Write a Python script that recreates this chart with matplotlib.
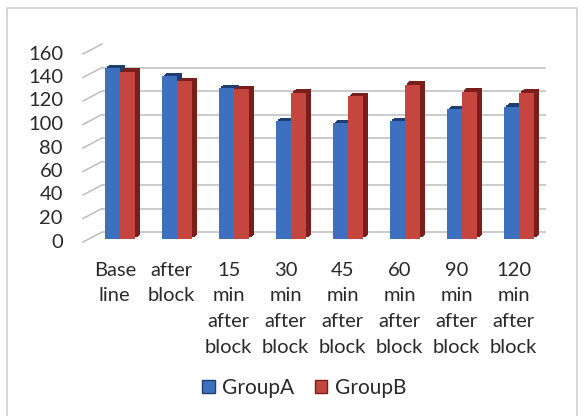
import numpy as np
import matplotlib
matplotlib.use("Agg")
import matplotlib.pyplot as plt
from matplotlib.transforms import offset_copy, IdentityTransform
from matplotlib.lines import Line2D
from matplotlib.patches import Patch, Rectangle

categories = ["Base\nline", "after\nblock", "15\nmin\nafter\nblock", "30\nmin\nafter\nblock",
              "45\nmin\nafter\nblock", "60\nmin\nafter\nblock", "90\nmin\nafter\nblock",
              "120\nmin\nafter\nblock"]
group_a = [145, 138, 128, 100, 98, 100, 110, 112]
group_b = [142, 134, 127, 124, 121, 131, 125, 124]
yticks = [0, 20, 40, 60, 80, 100, 120, 140, 160]
series_names = ["GroupA", "GroupB"]

plt.rcParams['font.family'] = ['Lato', 'DejaVu Sans']

W, H = 584, 416
fig = plt.figure(figsize=(W / 100, H / 100), dpi=100)
fig.patch.set_facecolor('white')

# outer chart border
fig.add_artist(Rectangle((7 / W, -0.05), (577 - 7) / W, (416 - 8) / H + 0.05,
                         transform=fig.transFigure, fill=False,
                         edgecolor='#d0d0d0', linewidth=1.2))

ax_left, ax_right, ax_bot, ax_top = 89.6, 545.6, 238.5, 50.5
ax = fig.add_axes([ax_left / W, (H - ax_bot) / H, (ax_right - ax_left) / W, (ax_bot - ax_top) / H])
ax.set_xlim(-0.53, 7.47)
ax.set_ylim(0, 160)
ax.axis('off')

back_dx, back_dy = 12.4, 6.5
front_dx, front_dy = -6.6, -3.5
grid_col = '#bdbdbd'
txt_col = '#2a2a2a'

back_tr = offset_copy(ax.transData, fig=fig, x=back_dx, y=back_dy, units='dots')
x0, x1 = ax.get_xlim()
for v in yticks:
    ax.plot([x0, x1], [v, v], color=grid_col, lw=1.1, transform=back_tr, zorder=1,
            solid_capstyle='butt')
    p = ax.transData.transform((x0, v))
    fig.add_artist(Line2D([p[0] + front_dx, p[0] + back_dx], [p[1] + front_dy, p[1] + back_dy],
                          transform=IdentityTransform(), color=grid_col, lw=1.1))
    ax.text(0, v, str(v), transform=offset_copy(ax.get_yaxis_transform(), fig=fig,
                                                 x=-26.6, y=front_dy, units='dots'),
            ha='right', va='center', fontsize=14.5, color=txt_col)

x = np.arange(len(categories))
w = 0.263
front_cols = ['#3d70bf', '#c5463f']
side_cols = ['#1e3d70', '#7a1e1b']
depth_x, depth_y = 5.0, 3.5
steps = np.linspace(0.4, 1.0, 8)
for s_i, (vals, xpos) in enumerate([(group_a, x - w / 2), (group_b, x + w / 2)]):
    z = 2 + 2 * s_i
    for f in steps:
        tr = offset_copy(ax.transData, fig=fig, x=depth_x * f, y=depth_y * f, units='dots')
        ax.bar(xpos, vals, width=w, color=side_cols[s_i], transform=tr, zorder=z, linewidth=0)
    ax.bar(xpos, vals, width=w, color=front_cols[s_i], zorder=z + 1, linewidth=0)

lab_tr = offset_copy(ax.get_xaxis_transform(), fig=fig, x=-5, y=-23, units='dots')
for i, c in enumerate(categories):
    ax.text(i, 0, c, transform=lab_tr, ha='center', va='top', fontsize=14.5,
            linespacing=1.62, color=txt_col)

handles = [Patch(facecolor=front_cols[i], edgecolor=side_cols[i], label=series_names[i])
           for i in range(2)]
fig.legend(handles=handles, loc='center', bbox_to_anchor=(304 / W, 28 / H), ncol=2,
           frameon=False, fontsize=15, handlelength=0.6, handleheight=0.6,
           handletextpad=0.35, columnspacing=1.0, labelcolor=txt_col)

fig.savefig('out.png', dpi=100, facecolor='white')
